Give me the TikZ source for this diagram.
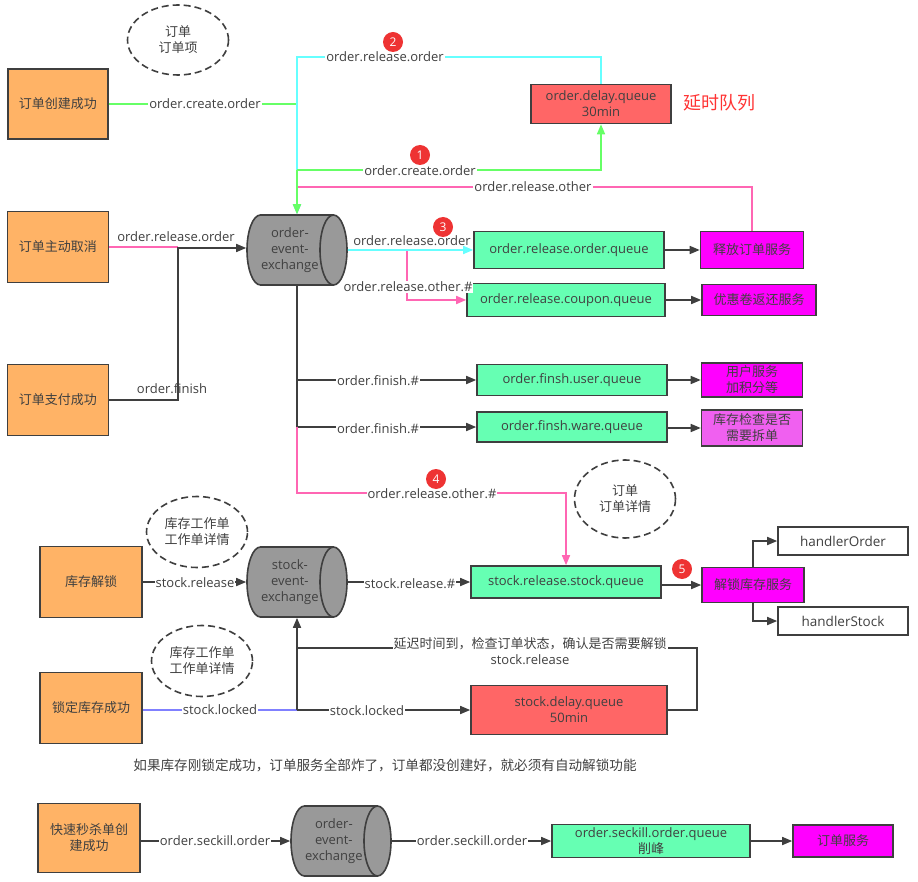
\documentclass[tikz,border=0pt]{standalone}
\usepackage{fontspec}
\setmainfont{Open Sans}
\newfontfamily\cjk{Noto Sans CJK SC}
\usetikzlibrary{shapes.geometric,arrows.meta}
\definecolor{orangebox}{HTML}{FFB366}
\definecolor{mint}{HTML}{66FFB3}
\definecolor{magentabox}{HTML}{FF00FF}
\definecolor{lightmag}{HTML}{F060F0}
\definecolor{delayred}{HTML}{FF6666}
\definecolor{exgray}{HTML}{999999}
\definecolor{edge}{HTML}{3F3F3F}
\definecolor{txt}{HTML}{404040}
\definecolor{cyanline}{HTML}{66FFFF}
\definecolor{greenline}{HTML}{66FF66}
\definecolor{pinkline}{HTML}{FF66B3}
\definecolor{blueline}{HTML}{8080FF}
\definecolor{badge}{HTML}{EE3333}
\definecolor{redtext}{HTML}{FF3333}
\begin{document}
\begin{tikzpicture}[x=1pt,y=-1pt,
  every node/.style={font=\fontsize{13}{16}\selectfont, text=txt},
  cn/.style={font=\cjk\fontsize{13}{16}\selectfont},
  box/.style={draw=edge, line width=1.6pt, inner sep=1pt, align=center},
  src/.style={box, fill=orangebox},
  queue/.style={box, fill=mint},
  svc/.style={box, fill=magentabox},
  delayq/.style={box, fill=delayred},
  handler/.style={box, fill=white},
  exch/.style={cylinder, draw=edge, line width=1.6pt, fill=exgray, aspect=0.6, shape border rotate=0, minimum height=100pt, minimum width=70pt, inner sep=0pt, align=center, anchor=shape center},
  note/.style={ellipse, draw=edge, line width=1.6pt, dash pattern=on 7pt off 4pt, align=center, inner sep=0pt},
  lbl/.style={fill=white, inner sep=1pt},
  badgenode/.style={circle, fill=badge, text=white, inner sep=0pt, minimum size=20pt, font=\fontsize{12}{12}\selectfont},
  link/.style={draw=edge, line width=1.6pt},
  cyanlink/.style={draw=cyanline, line width=1.6pt},
  greenlink/.style={draw=greenline, line width=1.6pt},
  pinklink/.style={draw=pinkline, line width=1.6pt},
  bluelink/.style={draw=blueline, line width=1.6pt},
  arr/.style={-{Triangle[length=10pt,width=8pt]}},
]
\useasboundingbox (0,0) rectangle (918,882);

% ---------------- nodes ----------------
\node[note, cn, minimum width=101pt, minimum height=70pt] (e1) at (178,40) {订单\\订单项};
\node[src, cn, minimum width=100pt, minimum height=70pt] (n1) at (58,104) {订单创建成功};
\node[src, cn, minimum width=101pt, minimum height=71pt] (n2) at (58,247) {订单主动取消};
\node[src, cn, minimum width=101pt, minimum height=71pt] (n3) at (58,400) {订单支付成功};
\node[exch] (ex1) at (297,250) {order-\\event-\\exchange};
\node[delayq, minimum width=140pt, minimum height=39pt] (dq) at (601,104) {order.delay.queue\\30min};
\node[font=\cjk\fontsize{18}{20}\selectfont, text=redtext, anchor=west] (dqt) at (680,103) {延时队列};
\node[queue, minimum width=190pt, minimum height=37pt] (q1) at (569,250) {order.release.order.queue};
\node[svc, cn, minimum width=103pt, minimum height=37pt] (s1) at (752,250) {释放订单服务};
\node[queue, minimum width=198pt, minimum height=33pt] (q2) at (566,300) {order.release.coupon.queue};
\node[svc, cn, minimum width=114pt, minimum height=31pt] (s2) at (759,300) {优惠卷返还服务};
\node[queue, minimum width=190pt, minimum height=31pt] (q3) at (572,380) {order.finsh.user.queue};
\node[svc, cn, minimum width=101pt, minimum height=34pt] (s3) at (752,380) {用户服务\\加积分等};
\node[queue, minimum width=190pt, minimum height=30pt] (q4) at (572,427) {order.finsh.ware.queue};
\node[box, fill=lightmag, cn, minimum width=101pt, minimum height=36pt] (s4) at (752,428) {库存检查是否\\需要拆单};

\node[note, cn, minimum width=101pt, minimum height=78pt] (e2) at (625,499) {订单\\订单详情};
\node[note, cn, minimum width=101pt, minimum height=71pt] (e3) at (197,532) {库存工作单\\工作单详情};
\node[src, cn, minimum width=102pt, minimum height=71pt] (n4) at (91,582) {库存解锁};
\node[exch] (ex2) at (297,582) {stock-\\event-\\exchange};
\node[queue, minimum width=190pt, minimum height=32pt] (q5) at (566,582) {stock.release.stock.queue};
\node[svc, cn, minimum width=102pt, minimum height=35pt] (s5) at (753,585) {解锁库存服务};
\node[handler, minimum width=130pt, minimum height=28pt, font=\fontsize{13.5}{16}\selectfont] (h1) at (843,541) {handlerOrder};
\node[handler, minimum width=130pt, minimum height=28pt, font=\fontsize{13.5}{16}\selectfont] (h2) at (843,621) {handlerStock};
\node[note, cn, minimum width=101pt, minimum height=71pt] (e4) at (202,661) {库存工作单\\工作单详情};
\node[src, cn, minimum width=102pt, minimum height=71pt] (n5) at (91,708) {锁定库存成功};
\node[delayq, minimum width=196pt, minimum height=49pt] (dq2) at (569,710) {stock.delay.queue\\50min};

\node[font=\cjk\fontsize{13.6}{16}\selectfont] (tip) at (385,765) {如果库存刚锁定成功，订单服务全部炸了，订单都没创建好，就必须有自动解锁功能};

\node[src, cn, minimum width=102pt, minimum height=69pt] (n6) at (89,838) {快速秒杀单创\\建成功};
\node[exch] (ex3) at (341,841) {order-\\event-\\exchange};
\node[queue, minimum width=198pt, minimum height=33pt] (q6) at (651,841) {order.seckill.order.queue\\{\cjk 削峰}};
\node[svc, cn, minimum width=100pt, minimum height=32pt] (s6) at (843,841) {订单服务};

% ---------------- junctions ----------------
\coordinate (jc) at (297,57);
\coordinate (j1) at (297,104);
\coordinate (jg) at (297,170);
\coordinate (jp) at (297,187);
\coordinate (j2) at (178,248);
\coordinate (j3) at (407,300);
\coordinate (j4) at (297,380);
\coordinate (j5) at (297,427);
\coordinate (j6) at (297,493);
\coordinate (j7) at (297,710);
\coordinate (j8) at (697,648);
\coordinate (j9) at (297,648);

% ---------------- connectors ----------------
\draw[greenlink] (n1.east) -- (j1);
\draw[pinklink, arr] (s1.north) |- (jp) -- (jp |- ex1.north);
\draw[cyanlink, arr] (dq.north) |- (jc) -- (jc |- ex1.north);
\draw[greenlink, arr] (jg) -- (jg |- ex1.north);
\draw[greenlink, arr] (jg) -| (dq.south);

\draw[pinklink] (n2.east) -- (n2.east -| j2);
\draw[link, arr] (n3.east) -| (j2) -- (j2 -| ex1.west);

\draw[pinklink, arr] (ex1.east) -| (j3) -- (q2.west);
\draw[cyanlink, arr] (ex1.east) -- (q1.west);

\draw[link] (j5) -- (j5 |- ex1.south);
\draw[link, arr] (j4) -- (q3.west);
\draw[link, arr] (j5) -- (q4.west);
\draw[pinklink, arr] (j5) -- (j6) -| (q5.north);

\draw[link, arr] (q1.east) -- (s1.west);
\draw[link, arr] (q2.east) -- (s2.west);
\draw[link, arr] (q3.east) -- (s3.west);
\draw[link, arr] (q4.east |- s4.west) -- (s4.west);

\draw[link, arr] (n4.east) -- (ex2.west);
\draw[link, arr] (ex2.east) -- (q5.west);
\draw[link, arr] (q5.east |- s5.west) -- (s5.west);
\draw[link, arr] (s5.north) |- (h1.west);
\draw[link, arr] (s5.south) |- (h2.west);

\draw[bluelink] (n5.east |- j7) -- (j7);
\draw[link, arr] (j7) -- (j7 |- ex2.south);
\draw[link, arr] (j7) -- (dq2.west);
\draw[link] (dq2.east) -| (j8) -- (j9);

\draw[link, arr] (n6.east |- ex3.west) -- (ex3.west);
\draw[link, arr] (ex3.east) -- (q6.west);
\draw[link, arr] (q6.east) -- (s6.west);

% ---------------- labels ----------------
\node[lbl] (l1) at (385,57) {order.release.order};
\node[lbl] (l2) at (205,104) {order.create.order};
\node[lbl] (l3) at (420,171) {order.create.order};
\node[lbl] (l4) at (533,187) {order.release.other};
\node (l5) at (176,237) {order.release.order};
\node (l6) at (412,241) {order.release.order};
\node[lbl] (l7) at (408,287) {order.release.other.\#};
\node (l8) at (172,389) {order.finish};
\node[lbl] (l9) at (378,381) {order.finish.\#};
\node[lbl] (l10) at (378,429) {order.finish.\#};
\node[lbl] (l11) at (432,494) {order.release.other.\#};
\node[lbl] (l12) at (195,583) {stock.release};
\node[lbl] (l13) at (410,584) {stock.release.\#};
\node[lbl] (l14) at (220,710) {stock.locked};
\node[lbl] (l15) at (367,711) {stock.locked};
\node[lbl, cn, align=center] (l16) at (530,651) {延迟时间到，检查订单状态，确认是否需要解锁\\{\rmfamily stock.release}};
\node[lbl] (l17) at (215,841) {order.seckill.order};
\node[lbl] (l18) at (472,841) {order.seckill.order};

% ---------------- badges ----------------
\node[badgenode] (b1) at (420,155) {1};
\node[badgenode] (b2) at (393,42) {2};
\node[badgenode] (b3) at (443,227) {3};
\node[badgenode] (b4) at (436,479) {4};
\node[badgenode] (b5) at (682,569) {5};
\end{tikzpicture}
\end{document}
